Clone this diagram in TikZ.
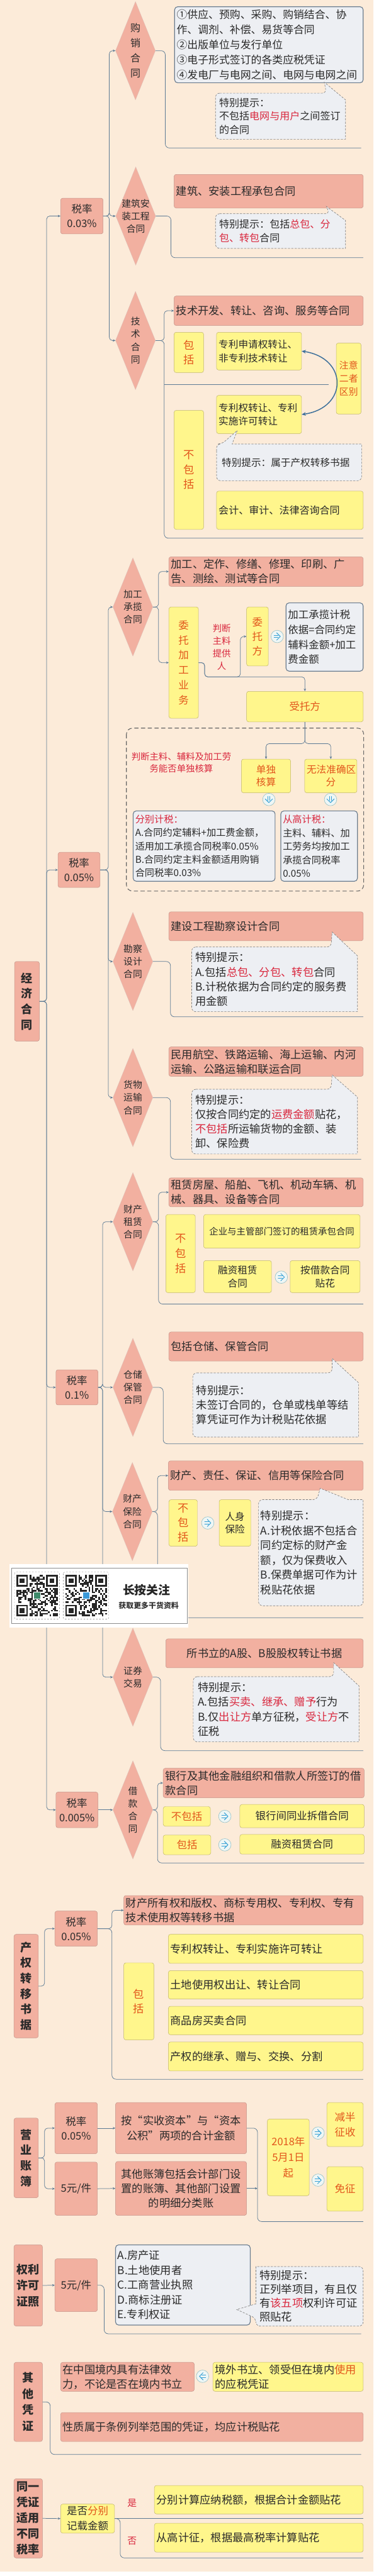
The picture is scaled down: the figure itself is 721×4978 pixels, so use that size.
\documentclass[tikz,border=0pt]{standalone}
\usepackage{fontspec}
\setmainfont{Noto Sans CJK SC}
\usetikzlibrary{shapes.geometric,arrows.meta}

\definecolor{bgc}{HTML}{FCEBD9}
\definecolor{pinkf}{HTML}{F2B0A0}
\definecolor{pinkd}{HTML}{C4948A}
\definecolor{yelf}{HTML}{FFF68C}
\definecolor{yeld}{HTML}{BDB36C}
\definecolor{notef}{HTML}{EDEFF3}
\definecolor{noted}{HTML}{6C7E90}
\definecolor{linec}{HTML}{5C7A94}
\definecolor{orng}{HTML}{E2561C}
\definecolor{redt}{HTML}{D9283E}
\definecolor{txt}{HTML}{2A2A2A}
\definecolor{dblc}{HTML}{3C6F9A}
\definecolor{icb}{HTML}{9CC4C8}
\definecolor{icf}{HTML}{EEF6F5}
\definecolor{icc}{HTML}{35A0D6}
\definecolor{logog}{HTML}{3E8A6A}
\definecolor{logob}{HTML}{3A9AD9}

\tikzset{
  bs/.style={inner sep=0pt, text=txt},
  pbox/.style={bs, draw=pinkd, fill=pinkf, rounded corners=4pt, line width=0.6pt},
  ybox/.style={bs, draw=yeld, fill=yelf, rounded corners=4pt, line width=0.6pt},
  nbox/.style={bs, draw=noted, fill=notef, rounded corners=6pt, line width=1.4pt},
  ctxt/.style={bs, align=left},
  al/.style={align=left}, ac/.style={align=center},
  ot/.style={text=orng},
  fA/.style={font=\fontsize{20.5}{29}\selectfont},
  fB/.style={font=\fontsize{19.5}{26.5}\selectfont},
  fC/.style={font=\fontsize{21}{28}\selectfont},
  fD/.style={font=\fontsize{21}{28}\selectfont},
  fD2/.style={font=\fontsize{21}{29}\selectfont},
  fE/.style={font=\fontsize{19}{26.5}\selectfont},
  fE2/.style={font=\fontsize{19.5}{26}\selectfont},
  fF/.style={font=\fontsize{18}{25.5}\selectfont},
  fG/.style={font=\fontsize{19}{26}\selectfont},
  fH/.style={font=\fontsize{20}{29}\selectfont},
  fH2/.style={font=\fontsize{20}{28}\selectfont},
  fI/.style={font=\fontsize{20}{29}\selectfont},
  fJ/.style={font=\fontsize{19}{24}\selectfont},
  fJ2/.style={font=\fontsize{19}{25}\selectfont},
  fK/.style={font=\fontsize{18.5}{26}\selectfont},
  fL/.style={font=\fontsize{21}{28.3}\selectfont},
  fL2/.style={font=\fontsize{21}{28.6}\selectfont},
  fM/.style={font=\fontsize{17.5}{22}\selectfont},
  fN/.style={font=\fontsize{20}{24}\selectfont},
  fO/.style={font=\fontsize{20}{30}\selectfont},
  fP/.style={font=\fontsize{21}{28.5}\selectfont},
  fQ/.style={font=\fontsize{21}{26.7}\selectfont},
  lft/.style={pbox, align=center, font=\bfseries\fontsize{22}{30}\selectfont},
  rate/.style={pbox, align=center, font=\fontsize{20}{28}\selectfont},
  dia/.style={diamond, aspect=0.405, draw=pinkd!60, fill=pinkf, inner sep=0pt, line width=0.4pt, minimum width=77pt, minimum height=190pt},
  dtxt/.style={bs, align=center, font=\fontsize{18}{24.5}\selectfont},
  conn/.style={draw=linec, line width=0.9pt, rounded corners=6pt, line join=round, arrows={-Stealth[length=5pt,width=4.5pt]}},
  bline/.style={draw=linec, line width=0.9pt, rounded corners=8pt, line join=round},
  call/.style={draw=black!50, dash pattern=on 4pt off 2.5pt, fill=notef, line width=0.8pt, rounded corners=8pt},
  grp/.style={draw=black!60, dash pattern=on 8pt off 5pt, line width=1.3pt, rounded corners=12pt},
  dbl/.style={draw=dblc, line width=1.8pt, arrows={Stealth[length=8pt,width=7pt]-Stealth[length=8pt,width=7pt]}},
  redl/.style={bs, text=redt, align=center, font=\fontsize{17.5}{24.3}\selectfont},
}

\newcommand\bx[7]{%
  \pgfmathsetmacro\bxw{(#5)-(#3)}%
  \pgfmathsetmacro\bxh{(#6)-(#4)}%
  \pgfmathsetmacro\bxt{(#5)-(#3)-8}%
  \pgfmathsetmacro\bxx{((#3)+(#5))/2}%
  \pgfmathsetmacro\bxy{((#4)+(#6))/2}%
  \node[#1, minimum width=\bxw pt, minimum height=\bxh pt, text width=\bxt pt] (#2) at (\bxx,\bxy) {#7};%
}
\newcommand\dmd[4]{%
  \node[dia] (#1) at (#2,#3) {};%
  \node[dtxt] (#1t) at (#2,#3) {#4};%
}
\newcommand\icn[4]{%
  \node[circle, minimum size=24pt, inner sep=0pt, draw=icb, fill=icf, line width=0.8pt] (#1) at (#2,#3) {};%
  \begin{scope}[shift={(#2,#3)}, rotate=#4]
    \draw[icc, line width=1.2pt, line cap=round] (-6,2.3) -- (2,2.3) (-6,-2.3) -- (2,-2.3);
    \draw[icc, line width=1.2pt, line cap=round, line join=round] (-1,7) -- (6,0) -- (-1,-7);
  \end{scope}%
}
\newcommand\qrc[3]{%
  \pgfmathsetseed{#3}%
  \foreach \i in {0,...,24}{%
    \foreach \j in {0,...,24}{%
      \pgfmathtruncatemacro\qf{((\i<8)&&(\j<8))||((\i>16)&&(\j<8))||((\i<8)&&(\j>16))}%
      \ifnum\qf=0
        \pgfmathtruncatemacro\qo{rnd<0.48}%
        \ifnum\qo=1 \fill[black!85] ({#1+\i*3.2},{#2+\j*3.2}) rectangle ++(3.2,3.2);\fi
      \fi}}%
  \foreach \a/\b in {0/0,18/0,0/18}{%
    \fill[black!85] ({#1+\a*3.2},{#2+\b*3.2}) rectangle ++(22.4,22.4);
    \fill[white] ({#1+\a*3.2+3.2},{#2+\b*3.2+3.2}) rectangle ++(16,16);
    \fill[black!85] ({#1+\a*3.2+6.4},{#2+\b*3.2+6.4}) rectangle ++(9.6,9.6);}%
}

\begin{document}
\begin{tikzpicture}[x=1pt,y=-1pt]
\useasboundingbox (0,0) rectangle (721,4978);
\fill[bgc] (0,0) rectangle (721,4970);
\fill[white] (0,4970) rectangle (721,4978);

% ===== left column and rates =====
\bx{lft}{jj}{28}{1858}{76}{2012}{经\\济\\合\\同}
\bx{rate}{r1}{117}{383}{199}{452}{税率\\0.03\%}
\bx{rate}{r2}{112}{1647}{193}{1715}{税率\\0.05\%}
\bx{rate}{r3}{108}{2647}{189}{2715}{税率\\0.1\%}
\bx{rate}{r4}{108}{3463}{189}{3532}{税率\\0.005\%}

\node[dia] (d1) at (261.5,98) {};
\node[dtxt, font=\fontsize{19.5}{29}\selectfont] (d1t) at (261.5,98) {购\\销\\合\\同};
\dmd{d2}{262}{417.5}{建筑安\\装工程\\合同}
\dmd{d3}{261.5}{658}{技\\术\\合\\同}
\dmd{d4}{256.5}{1173}{加工\\承揽\\合同}
\dmd{d5}{256.5}{1858}{勘察\\设计\\合同}
\dmd{d6}{256.5}{2121}{货物\\运输\\合同}
\dmd{d7}{256.5}{2361}{财产\\租赁\\合同}
\dmd{d8}{256.5}{2681}{仓储\\保管\\合同}
\dmd{d9}{255.5}{2921}{财产\\保险\\合同}
\dmd{d10}{256.5}{3241}{证券\\交易}
\dmd{d11}{256.5}{3497.5}{借\\款\\合\\同}

\coordinate (tA) at (90,0);
\foreach \n in {r1,r2,r3,r4}{\draw[conn] (jj.east) -- (jj.east -| tA) |- (\n.west);}
\coordinate (tB) at (211,0);
\foreach \n in {d1,d2,d3}{\draw[conn] (r1.east) -- (r1.east -| tB) |- (\n.west);}
\coordinate (tC) at (209,0);
\foreach \n in {d4,d5,d6}{\draw[conn] (r2.east) -- (r2.east -| tC) |- (\n.west);}
\coordinate (tD) at (198,0);
\foreach \n in {d7,d8,d9,d10}{\draw[conn] (r3.east) -- (r3.east -| tD) |- (\n.west);}
\draw[conn] (r4.east) -- (d11.west);

% ===== 购销合同 =====
\bx{nbox,al,fA}{n1}{337}{13}{701}{160}{①供应、预购、采购、购销结合、协\\作、调剂、补偿、易货等合同\\②出版单位与发行单位\\③电子形式签订的各类应税凭证\\④发电厂与电网之间、电网与电网之间}
\draw[call] (416,180) -- (630,180) [sharp corners] -- (626,159) -- (667,193) -- (667,269) [rounded corners=8pt] -- (416,269) -- cycle;
\bx{ctxt,fB}{c1}{419}{180}{667}{269}{特别提示：\\不包括\textcolor{redt}{电网与用户}之间签订\\的合同}
\draw[bline] (d1.east) -| (319,286) -- (697,286);

% ===== 建筑安装 =====
\bx{pbox,al,fC}{b1}{336}{337}{701}{402}{建筑、安装工程承包合同}
\draw[call] (416,413) -- (636,413) [sharp corners] -- (630,399) -- (667,426) -- (667,480) [rounded corners=8pt] -- (416,480) -- cycle;
\bx{ctxt,fB}{c2}{419}{413}{667}{480}{特别提示：包括\textcolor{redt}{总包、分}\\\textcolor{redt}{包、转包}合同}
\draw[bline] (d2.east) -| (330,498) -- (701,498);

% ===== 技术合同 =====
\bx{pbox,al,fC}{b2}{336}{572}{701}{629}{技术开发、转让、咨询、服务等合同}
\bx{ybox,ac,fD,ot}{y1}{336}{642}{393}{720}{包\\括}
\bx{ybox,al,fE}{y2}{418}{642}{582}{715}{专利申请权转让、\\非专利技术转让}
\bx{ybox,ac,fF,ot}{y3}{649}{663}{697}{800}{注意\\二者\\区别}
\bx{ybox,ac,fD2,ot}{y4}{336}{793}{393}{1023}{不\\包\\括}
\bx{ybox,al,fE}{y5}{418}{764}{582}{838}{专利权转让、专利\\实施许可转让}
\draw[call] (418,880) -- (418,858) -- (428,858) [sharp corners] -- (458,832) -- (448,858) -- (698,858) [rounded corners=8pt] -- (698,929) -- (418,929) -- cycle;
\bx{ctxt,fG}{c3}{424}{858}{698}{929}{特别提示：属于产权转移书据}
\bx{ybox,al,fE2}{y6}{418}{949}{701}{1023}{会计、审计、法律咨询合同}
\draw[conn] (d3.east) -- (317,658) |- (b2.west);
\draw[bline] (d3.east) -| (317,1040) -- (701,1040);
\draw[bline] (317,743) -- (634,743);
\draw[dbl] (y2.east) .. controls (672,692) and (672,788) .. (y5.east);

% ===== 加工承揽 =====
\bx{pbox,al,fC}{b3}{326}{1076}{701}{1133}{加工、定作、修缮、修理、印刷、广\\告、测绘、测试等合同}
\bx{ybox,ac,fH,ot}{wt}{326}{1173}{383}{1388}{委\\托\\加\\工\\业\\务}
\node[redl] (lb1) at (428,1251) {判断\\主料\\提供\\人};
\bx{ybox,ac,fH2,ot}{wf}{476}{1173}{518}{1287}{委\\托\\方}
\icn{i1}{535}{1230}{0}
\bx{nbox,al,fI}{n2}{552}{1165}{701}{1297}{加工承揽计税\\依据=合同约定\\辅料金额+加工\\费金额}
\bx{ybox,ac,fH,ot}{st}{476}{1336}{701}{1395}{受托方}
\draw[grp] (244,1407) rectangle (702,1722);
\node[redl, font=\fontsize{17.5}{23}\selectfont] (lb2) at (350,1474) {判断主料、辅料及加工劳\\务能否单独核算};
\bx{ybox,ac,fJ,ot}{dd}{466}{1467}{561}{1532}{单独\\核算}
\bx{ybox,ac,fJ,ot}{wq}{588}{1467}{689}{1532}{无法准确区\\分}
\icn{i2}{519}{1545}{-90}
\icn{i3}{638}{1545}{-90}
\bx{nbox,al,fK}{n3}{257}{1567}{531}{1703}{\textcolor{redt}{分别计税：}\\A.合同约定辅料+加工费金额，\\适用加工承揽合同税率0.05\%\\B.合同约定主料金额适用购销\\合同税率0.03\%}
\bx{nbox,al,fK}{n4}{542}{1567}{690}{1703}{\textcolor{redt}{从高计税：}\\主料、辅料、加\\工劳务均按加工\\承揽合同税率\\0.05\%}
\draw[conn] (d4.east) -- (306,1173) |- (b3.west);
\draw[conn] (d4.east) -- (306,1173) |- (wt.west);
\draw[conn] (wt.east) -- (395,1280.5) |- (464,1308) |- (wf.west);
\draw[conn] (wt.east) -- (395,1280.5) |- (st.north |- 0,1308) -- (st.north);
\draw[conn] (st.south) -- (588.5,1437) -| (dd.north);
\draw[conn] (st.south) -- (588.5,1437) -| (wq.north);

% ===== 勘察设计 =====
\bx{pbox,al,fC}{b4}{326}{1762}{701}{1818}{建设工程勘察设计合同}
\draw[call] (370,1830) -- (639,1830) [sharp corners] -- (641,1801) -- (690,1847) -- (690,1955) [rounded corners=8pt] -- (370,1955) -- cycle;
\bx{ctxt,fL}{c4}{373}{1830}{690}{1955}{特别提示：\\A.包括\textcolor{redt}{总包、分包、转包}合同\\B.计税依据为合同约定的服务费\\用金额}
\draw[bline] (d5.east) -| (329,1965) -- (701,1965);

% ===== 货物运输 =====
\bx{pbox,al,fC}{b5}{326}{2023}{701}{2080}{民用航空、铁路运输、海上运输、内河\\运输、公路运输和联运合同}
\draw[call] (370,2105) -- (639,2105) [sharp corners] -- (641,2077) -- (690,2120) -- (690,2230) [rounded corners=8pt] -- (370,2230) -- cycle;
\bx{ctxt,fL}{c5}{373}{2105}{690}{2230}{特别提示：\\仅按合同约定的\textcolor{redt}{运费金额}贴花，\\\textcolor{redt}{不包括}所运输货物的金额、装\\卸、保险费}
\draw[bline] (d6.east) -| (329,2240) -- (697,2240);

% ===== 财产租赁 =====
\bx{pbox,al,fC}{b6}{326}{2276}{701}{2332}{租赁房屋、船舶、飞机、机动车辆、机\\械、器具、设备等合同}
\bx{ybox,ac,fD2,ot}{y7}{320}{2347}{377}{2498}{不\\包\\括}
\bx{ybox,ac,fM}{y8}{393}{2347}{695}{2412}{企业与主管部门签订的租赁承包合同}
\bx{ybox,ac,fJ2}{y9}{393}{2436}{524}{2498}{融资租赁\\合同}
\icn{i4}{543}{2468}{0}
\bx{ybox,ac,fJ2}{y10}{560}{2436}{695}{2498}{按借款合同\\贴花}
\draw[conn] (d7.east) -- (306,2361) |- (b6.west);
\draw[bline] (d7.east) -| (306,2520) -- (701,2520);

% ===== 仓储保管 =====
\bx{pbox,al,fC}{b7}{326}{2574}{701}{2630}{包括仓储、保管合同}
\draw[call] (372,2653) -- (641,2653) [sharp corners] -- (641,2625) -- (692,2672) -- (692,2777) [rounded corners=8pt] -- (372,2777) -- cycle;
\bx{ctxt,fL}{c6}{375}{2653}{692}{2777}{特别提示：\\未签订合同的，仓单或栈单等结\\算凭证可作为计税贴花依据}
\draw[bline] (d8.east) -| (315,2790) -- (701,2790);

% ===== 财产保险 =====
\bx{pbox,al,fC}{b8}{325}{2823}{701}{2880}{财产、责任、保证、信用等保险合同}
\bx{ybox,ac,fD,ot}{y11}{326}{2898}{381}{2988}{不\\包\\括}
\icn{i5}{401}{2943}{0}
\bx{ybox,ac,fJ2}{y12}{423}{2898}{484}{2988}{人身\\保险}
\draw[call] (499,3000) -- (499,2898) -- (612,2898) [sharp corners] -- (618,2876) -- (672,2898) -- (701,2898) [rounded corners=8pt] -- (701,3103) -- (499,3103) -- cycle;
\bx{ctxt,fL2}{c7}{499}{2898}{703}{3103}{特别提示：\\A.计税依据不包括合\\同约定标的财产金\\额，仅为保费收入\\B.保费单据可作为计\\税贴花依据}
\draw[conn] (d9.east) -- (304,2921) |- (b8.west);
\draw[bline] (d9.east) -| (304,3126) -- (701,3126);

% ===== 证券交易 =====
\bx{pbox,ac,fC}{b9}{320}{3167}{701}{3223}{所书立的A股、B股股权转让书据}
\draw[call] (373,3240) -- (644,3240) [sharp corners] -- (644,3213) -- (693,3258) -- (693,3366) [rounded corners=8pt] -- (373,3366) -- cycle;
\bx{ctxt,fL}{c8}{378}{3240}{693}{3366}{特别提示：\\A.包括\textcolor{redt}{买卖、继承、赠予}行为\\B.仅\textcolor{redt}{出让方}单方征税，\textcolor{redt}{受让方}不\\征税}
\draw[bline] (d10.east) -| (310,3383) -- (701,3383);

% ===== 借款合同 =====
\bx{pbox,al,fC}{b10}{315}{3417}{703}{3474}{银行及其他金融组织和借款人所签订的借\\款合同}
\bx{ybox,ac,fN,ot}{y13}{315}{3491}{406}{3529}{不包括}
\icn{i6}{434}{3510}{0}
\bx{ybox,ac,fN}{y14}{463}{3487}{703}{3532}{银行间同业拆借合同}
\bx{ybox,ac,fN,ot}{y15}{315}{3546}{407}{3584}{包括}
\icn{i7}{434}{3565}{0}
\bx{ybox,ac,fN}{y16}{463}{3545}{703}{3583}{融资租赁合同}
\draw[conn] (d11.east) -- (304,3497.5) |- (b10.west);
\draw[bline] (d11.east) -| (304,3600) -- (703,3600);

% ===== 产权转移书据 =====
\bx{lft}{pc}{27}{3738}{74}{3938}{产\\权\\转\\移\\书\\据}
\bx{rate}{r5}{106}{3693}{188}{3761}{税率\\0.05\%}
\bx{pbox,al,fC}{b11}{239}{3663}{701}{3720}{财产所有权和版权、商标专用权、专利权、专有\\技术使用权等转移书据}
\bx{ybox,ac,fD,ot}{y17}{239}{3793}{297}{3942}{包\\括}
\bx{ybox,al,fC}{y18}{325}{3738}{701}{3794}{专利权转让、专利实施许可转让}
\bx{ybox,al,fC}{y19}{325}{3808}{701}{3863}{土地使用权出让、转让合同}
\bx{ybox,al,fC}{y20}{325}{3877}{701}{3932}{商品房买卖合同}
\bx{ybox,al,fC}{y21}{325}{3946}{701}{4002}{产权的继承、赠与、交换、分割}
\draw[conn] (pc.east) -- (86,3838) |- (r5.west);
\draw[conn] (r5.east) -- (216,3727) |- (b11.west);
\draw[bline] (r5.east) -| (216,4018) -- (701,4018);

% ===== 营业账簿 =====
\bx{lft}{yy}{27}{4093}{74}{4247}{营\\业\\账\\簿}
\bx{rate}{r6}{106}{4063}{188}{4162}{税率\\0.05\%}
\bx{rate}{r7}{106}{4178}{188}{4281}{5元/件}
\bx{pbox,ac,fC}{yb1}{223}{4063}{476}{4162}{按“实收资本”与“资本\\公积”两项的合计金额}
\bx{pbox,ac,fC}{yb2}{223}{4177}{476}{4281}{其他账簿包括会计部门设\\置的账簿、其他部门设置\\的明细分类账}
\bx{ybox,ac,fO,ot}{y22}{516}{4095}{597}{4243}{2018年\\5月1日\\起}
\bx{ybox,ac,fH,ot}{y23}{631}{4063}{701}{4148}{减半\\征收}
\icn{i8}{614}{4122}{0}
\bx{ybox,ac,fH,ot}{y24}{631}{4187}{701}{4273}{免征}
\icn{i9}{614}{4213}{0}
\draw[conn] (yy.east) -- (86,4170) |- (r6.west);
\draw[conn] (yy.east) -- (86,4170) |- (r7.west);
\draw[conn] (r6.east) -- (yb1.west);
\draw[conn] (r7.east) -- (yb2.west);
\draw[bline] (yb1.east) -| (497,4293) -- (701,4293);
\draw[conn] (yb2.east) -- (497,4229);

% ===== 权利许可证照 =====
\bx{lft, font=\bfseries\fontsize{22}{31}\selectfont}{ql}{27}{4338}{82}{4495}{权利\\许可\\证照}
\bx{rate}{r8}{106}{4365}{188}{4467}{5元/件}
\bx{nbox,al,fP}{n5}{223}{4338}{483}{4493}{A.房产证\\B.土地使用者\\C.工商营业执照\\D.商标注册证\\E.专利权证}
\draw[call] (701,4440) -- (701,4495) -- (494,4495) -- (494,4480) [sharp corners] -- (457,4463) -- (494,4452) -- (494,4380) [rounded corners=8pt] -- (701,4380) -- cycle;
\bx{ctxt,fQ}{c9}{497}{4380}{701}{4495}{特别提示：\\正列举项目，有且仅\\有\textcolor{redt}{该五项}权利许可证\\照贴花}
\draw[conn] (ql.east) -- (r8.west);
\draw[bline] (r8.east) -| (201,4510) -- (697,4510);

% ===== 其他凭证 =====
\bx{lft, font=\bfseries\fontsize{22}{31}\selectfont}{qt}{27}{4565}{82}{4718}{其\\他\\凭\\证}
\bx{pbox,al,fC}{q1}{117}{4565}{375}{4621}{在中国境内具有法律效\\力，不论是否在境内书立}
\icn{i10}{391}{4592}{180}
\bx{ybox,al,fC}{q2}{411}{4565}{701}{4621}{境外书立、领受但在境内\textcolor{orng}{使用}\\的应税凭证}
\bx{pbox,al,fC}{q3}{117}{4662}{701}{4718}{性质属于条例列举范围的凭证，均应计税贴花}
\draw[bline] (qt.east) -| (97,4743) -- (697,4743);

% ===== 同一凭证适用不同税率 =====
\bx{lft, font=\bfseries\fontsize{22}{30.3}\selectfont}{ty}{27}{4790}{82}{4943}{同一\\凭证\\适用\\不同\\税率}
\bx{ybox,ac,fI}{sf}{117}{4839}{221}{4895}{是否\textcolor{orng}{分别}\\记载金额}
\node[redl, font=\fontsize{18}{18}\selectfont] (shi) at (255,4837) {是};
\node[redl, font=\fontsize{18}{18}\selectfont] (fou) at (255,4910) {否};
\bx{ybox,al,fC}{t1}{298}{4803}{701}{4858}{分别计算应纳税额，根据合计金额贴花}
\bx{ybox,al,fC}{t2}{298}{4876}{701}{4932}{从高计征，根据最高税率计算贴花}
\draw[conn] (ty.east) -- (sf.west);
\draw[bline] (sf.east) -- (701,4867);
\draw[bline] (sf.east) -| (232,4943) -- (701,4943);

% ===== QR panel =====
\bx{bs, fill=white}{qrp}{18}{3022}{363}{3145}{}
\draw[black!45, line width=1.2pt] (23,3030) rectangle (361,3137);
\draw[black!55, dashed, rounded corners=3pt] (28,3038) rectangle (115,3129);
\draw[black!55, dashed, rounded corners=3pt] (122,3038) rectangle (210,3129);
\qrc{31.5}{3043.5}{7}
\qrc{126}{3043.5}{19}
\fill[white] (64,3076) rectangle (79,3091);
\fill[logog] (65.5,3077.5) rectangle (77.5,3089.5);
\fill[white] (158.5,3076) rectangle (173.5,3091);
\fill[logob] (160,3077.5) rectangle (172,3089.5);
\node[bs, font=\bfseries\fontsize{23}{23}\selectfont, text=black!85] (qa) at (283,3073) {长按关注};
\node[bs, font=\bfseries\fontsize{14.5}{14.5}\selectfont, text=black!80] (qb) at (287,3103) {获取更多干货资料};
\end{tikzpicture}
\end{document}
